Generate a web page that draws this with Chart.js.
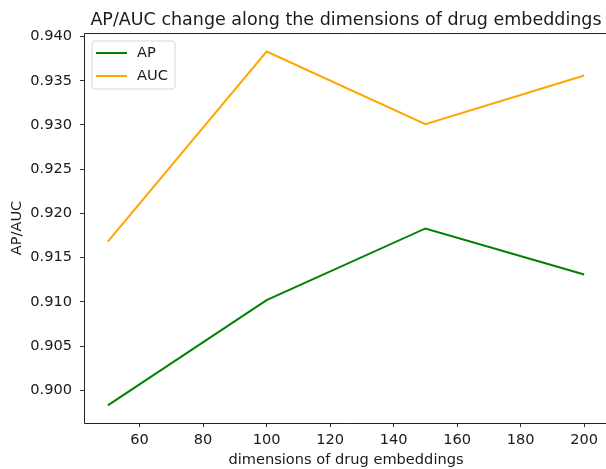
<!DOCTYPE html>
<html>
<head>
<meta charset="utf-8">
<script src="https://cdn.jsdelivr.net/npm/chart.js@4.4.0/dist/chart.umd.min.js"></script>
<style>
  html, body { margin: 0; padding: 0; background: #fff; overflow: hidden; }
  #lineGraph { display: block; }
</style>
</head>
<body>
<canvas id="lineGraph" width="612" height="469"></canvas>
<script>
// DATA

var dims = [50, 100, 150, 200];
var apValues = [0.8983, 0.9102, 0.9183, 0.9131];
var aucValues = [0.9168, 0.9383, 0.9301, 0.9356];
var seriesNames = ['AP', 'AUC'];
var seriesColors = ['#008000', '#ffa500'];

var titleText = 'AP/AUC change along the dimensions of drug embeddings';
var xLabel = 'dimensions of drug embeddings';
var yLabel = 'AP/AUC';

var fontFamily = '"DejaVu Sans", sans-serif';
var textColor = '#1a1a1a';

function toPoints(values) {
    return dims.map(function (d, i) { return { x: d, y: values[i] }; });
}

// legend box in the upper left corner + spines (right one falls outside the crop)
var frameAndLegend = {
    id: 'frameAndLegend',
    afterDatasetsDraw: function (chart) {
        var ctx = chart.ctx;
        var a = chart.chartArea;
        ctx.save();
        ctx.strokeStyle = '#222';
        ctx.lineWidth = 1;
        ctx.beginPath();
        ctx.moveTo(a.right, a.top + 0.5);
        ctx.lineTo(a.left + 0.5, a.top + 0.5);
        ctx.lineTo(a.left + 0.5, a.bottom + 0.5);
        ctx.lineTo(a.right, a.bottom + 0.5);
        ctx.stroke();

        var bx = a.left + 8, by = a.top + 8, bw = 83, bh = 48, r = 3;
        ctx.beginPath();
        ctx.moveTo(bx + r, by);
        ctx.arcTo(bx + bw, by, bx + bw, by + bh, r);
        ctx.arcTo(bx + bw, by + bh, bx, by + bh, r);
        ctx.arcTo(bx, by + bh, bx, by, r);
        ctx.arcTo(bx, by, bx + bw, by, r);
        ctx.closePath();
        ctx.fillStyle = 'rgba(255,255,255,0.8)';
        ctx.fill();
        ctx.strokeStyle = '#d6d6d6';
        ctx.stroke();

        ctx.font = '14.6px ' + fontFamily;
        ctx.textBaseline = 'middle';
        chart.data.datasets.forEach(function (ds, i) {
            var y = by + 12 + i * 23;
            ctx.strokeStyle = ds.borderColor;
            ctx.lineWidth = 2;
            ctx.beginPath();
            ctx.moveTo(bx + 4, y);
            ctx.lineTo(bx + 35, y);
            ctx.stroke();
            ctx.fillStyle = textColor;
            ctx.fillText(ds.label, bx + 45, y);
        });
        ctx.restore();
    }
};

var ctx = document.getElementById('lineGraph');

var lineGraph = new Chart(ctx, {
    type: 'line',
    data: {
        datasets: [{
            label: seriesNames[0],
            data: toPoints(apValues),
            borderColor: seriesColors[0],
            backgroundColor: seriesColors[0],
            borderWidth: 2,
            pointRadius: 0,
            tension: 0
        }, {
            label: seriesNames[1],
            data: toPoints(aucValues),
            borderColor: seriesColors[1],
            backgroundColor: seriesColors[1],
            borderWidth: 2,
            pointRadius: 0,
            tension: 0
        }]
    },
    options: {
        responsive: false,
        animation: false,
        devicePixelRatio: 1,
        layout: { padding: { left: 0, right: 4, top: 0, bottom: 0 } },
        plugins: {
            legend: { display: false },
            tooltip: { enabled: false },
            title: {
                display: true,
                text: titleText,
                fullSize: false,
                color: textColor,
                font: { family: fontFamily, size: 17.5, weight: 'normal' },
                padding: { top: 9.5, bottom: 2.5 }
            }
        },
        scales: {
            x: {
                type: 'linear',
                min: 42.5,
                max: 207.5,
                afterFit: function (scale) {
                    scale.height = 46;
                    scale.paddingLeft = 0;
                    scale.paddingRight = 0;
                },
                border: { display: false },
                grid: { drawOnChartArea: false, drawTicks: true, tickLength: 4, color: '#333' },
                ticks: {
                    stepSize: 20,
                    includeBounds: false,
                    padding: 4,
                    color: textColor,
                    maxRotation: 0,
                    font: { family: fontFamily, size: 14.6 }
                },
                title: {
                    display: true,
                    text: xLabel,
                    color: textColor,
                    font: { family: fontFamily, size: 14.6 },
                    padding: { top: 0, bottom: 0 }
                }
            },
            y: {
                type: 'linear',
                min: 0.8963,
                max: 0.9404,
                afterFit: function (scale) { scale.width = 84; },
                border: { display: false },
                grid: { drawOnChartArea: false, drawTicks: true, tickLength: 4, color: '#333' },
                ticks: {
                    stepSize: 0.005,
                    includeBounds: false,
                    padding: 8,
                    color: textColor,
                    font: { family: fontFamily, size: 14.6 },
                    callback: function (v) { return v.toFixed(3); }
                },
                title: {
                    display: true,
                    text: yLabel,
                    color: textColor,
                    font: { family: fontFamily, size: 14.6 },
                    padding: { top: 8, bottom: 0 }
                }
            }
        }
    },
    plugins: [frameAndLegend]
});
</script>
</body>
</html>
